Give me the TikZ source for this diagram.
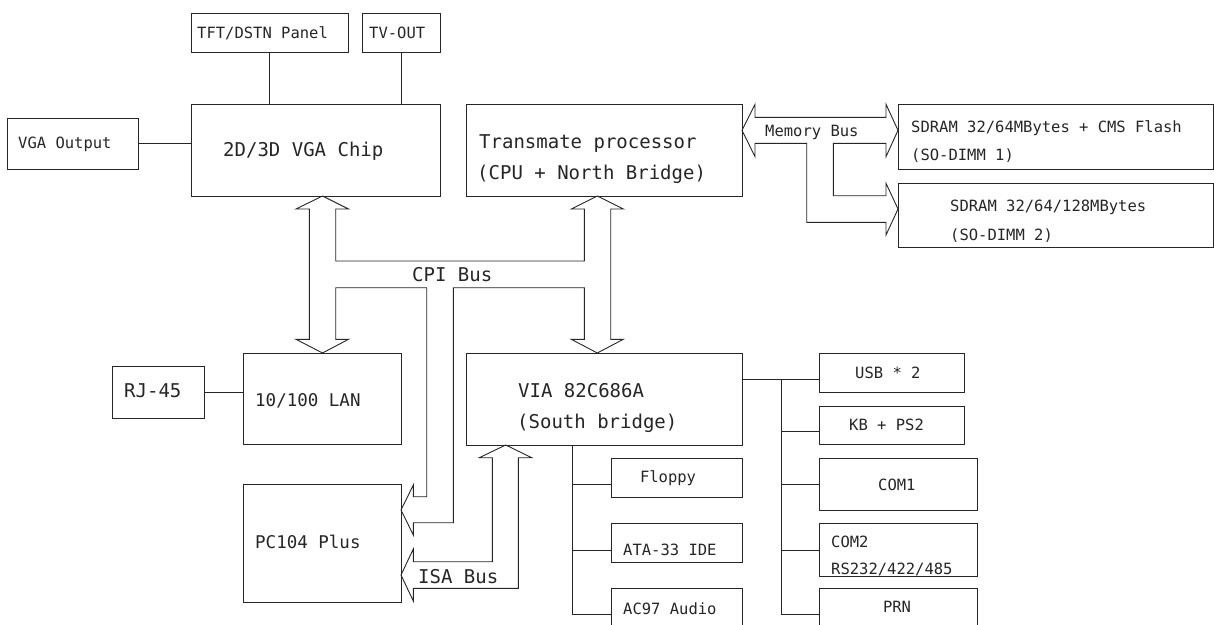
\documentclass[tikz,border=0pt]{standalone}
\usepackage{fontspec}
\newfontfamily\dmono{DejaVu Sans Mono}
\definecolor{ink}{HTML}{262626}
\tikzset{
  box/.style={draw=ink,line width=0.9pt,inner sep=0pt,outer sep=0pt},
  ln/.style={draw=ink,line width=0.9pt},
  bus/.style={draw=ink,line width=0.9pt,line join=miter},
  ts/.style={inner sep=0pt,text=ink,font=\dmono\fontsize{15.5}{16}\selectfont},
  tm/.style={inner sep=0pt,text=ink,font=\dmono\fontsize{17.5}{18}\selectfont},
  tl/.style={inner sep=0pt,text=ink,font=\dmono\fontsize{19}{20}\selectfont},
}
\newcommand\mybox[5]{\node[box,minimum width={#4pt-#2pt},minimum height={#5pt-#3pt}] (#1) at ({(#2+#4)/2},{(#3+#5)/2}) {};}
\begin{document}
\begin{tikzpicture}[x=1pt,y=-1pt]
\useasboundingbox (0,0) rectangle (1214,624);
\clip (0,0) rectangle (1214,624);
\fill[white] (0,0) rectangle (1214,624);
% boxes
\mybox{tft}{191}{13}{348}{52}
\mybox{tv}{362}{13}{440}{52}
\mybox{vga}{191}{104}{440}{196}
\mybox{vgaout}{7}{118}{138}{169}
\mybox{cpu}{466}{104}{742}{196}
\mybox{sdA}{898}{104}{1213}{169}
\mybox{sdB}{898}{183}{1213}{247}
\mybox{lan}{243}{353}{401}{444}
\mybox{pc}{243}{484}{401}{602}
\mybox{rj}{112}{366}{204}{418}
\mybox{via}{466}{353}{742}{445}
\mybox{usb}{819}{353}{964}{392}
\mybox{kb}{819}{406}{964}{444}
\mybox{comA}{819}{458}{977}{510}
\mybox{comB}{819}{523}{977}{576}
\mybox{prn}{819}{588}{977}{650}
\mybox{fd}{611}{458}{742}{497}
\mybox{ata}{611}{523}{742}{562}
\mybox{ac}{611}{588}{742}{650}
% texts
\node[ts,anchor=base west] (t1) at (197,38) {TFT/DSTN Panel};
\node[ts,anchor=base west] (t2) at (369,38) {TV-OUT};
\node[ts,anchor=base west] (t3) at (18,148) {VGA Output};
\node[tl,anchor=base west] (t4) at (223,156) {2D/3D VGA Chip};
\node[tl,anchor=base west] (t5) at (479,148) {Transmate processor};
\node[tl,anchor=base west] (t6) at (477,179) {(CPU + North Bridge)};
\node[ts,anchor=base west] (t7) at (765,136) {Memory Bus};
\node[ts,anchor=base west] (t8) at (911,132) {SDRAM 32/64MBytes + CMS Flash};
\node[ts,anchor=base west] (t9) at (911,160) {(SO-DIMM 1)};
\node[ts,anchor=base west] (t10) at (950,211) {SDRAM 32/64/128MBytes};
\node[ts,anchor=base west] (t11) at (950,240) {(SO-DIMM 2)};
\node[tl,anchor=base west] (t12) at (412,281) {CPI Bus};
\node[tl,anchor=base west] (t13) at (124,397.5) {RJ-45};
\node[tm,anchor=base west] (t14) at (255,406.5) {10/100 LAN};
\node[tm,anchor=base west] (t15) at (255,548.5) {PC104 Plus};
\node[tl,anchor=base west] (t16) at (518,397) {VIA 82C686A};
\node[tl,anchor=base west] (t17) at (517,428) {(South bridge)};
\node[tl,anchor=base west] (t18) at (418,583) {ISA Bus};
\node[ts,anchor=base west] (t19) at (855,378.5) {USB * 2};
\node[ts,anchor=base west] (t20) at (849,430) {KB + PS2};
\node[ts,anchor=base west] (t21) at (878,490) {COM1};
\node[ts,anchor=base west] (t22) at (831,547) {COM2};
\node[ts,anchor=base west] (t23) at (831,574) {RS232/422/485};
\node[ts,anchor=base] (t24) at (897,612.5) {PRN};
\node[ts,anchor=base] (t25) at (668,482.5) {Floppy};
\node[ts,anchor=base west] (t26) at (623,555) {ATA-33 IDE};
\node[ts,anchor=base west] (t27) at (623,614) {AC97 Audio};
% plain connectors
\draw[ln] (tft.south) -- (tft.south |- vga.north);
\draw[ln] (tv.south) -- (tv.south |- vga.north);
\draw[ln] (vgaout.east) -- (vgaout.east -| vga.west);
\draw[ln] (rj.east) -- (rj.east -| lan.west);
\coordinate (rb0) at (781,379);
\coordinate (rb1) at (781,431);
\coordinate (rb2) at (781,484);
\coordinate (rb3) at (781,550);
\coordinate (rb4) at (781,614);
\draw[ln] (via.east |- rb0) -- (usb.west |- rb0);
\draw[ln] (rb0) -- (rb4) -- (rb4 -| prn.west);
\draw[ln] (rb1) -- (rb1 -| kb.west);
\draw[ln] (rb2) -- (rb2 -| comA.west);
\draw[ln] (rb3) -- (rb3 -| comB.west);
\coordinate (lb0) at (572,445);
\coordinate (lb1) at (572,484);
\coordinate (lb2) at (572,550);
\coordinate (lb3) at (572,614);
\draw[ln] (lb0) -- (lb3) -- (lb3 -| ac.west);
\draw[ln] (lb1) -- (lb1 -| fd.west);
\draw[ln] (lb2) -- (lb2 -| ata.west);
% CPI bus
\draw[bus] (309.3,209) -- (296,209) -- (322.5,196) -- (348.5,209) -- (335.7,209)
  -- (335.7,261) -- (584.3,261) -- (584.3,209) -- (571.3,209) -- (597.3,196)
  -- (623.3,209) -- (610.7,209) -- (610.7,339.3) -- (623.3,339.3) -- (597.3,353)
  -- (571.3,339.3) -- (584.3,339.3) -- (584.3,287.7) -- (453.3,287.7)
  -- (453.3,522.7) -- (413.3,522.7) -- (413.3,535) -- (401,510) -- (413.3,485)
  -- (413.3,496.7) -- (426.7,496.7) -- (426.7,287.7) -- (335.7,287.7)
  -- (335.7,339.3) -- (348.5,339.3) -- (322.5,353) -- (296,339.3) -- (309.3,339.3) -- cycle;
% ISA bus
\draw[bus] (505.7,445) -- (531.7,457.7) -- (518.3,457.7) -- (518.3,588.3)
  -- (413.3,588.3) -- (413.3,601) -- (401,575) -- (413.3,549) -- (413.3,561.7)
  -- (492.3,561.7) -- (492.3,457.7) -- (479.3,457.7) -- cycle;
% Memory bus
\draw[bus] (742,130.3) -- (755,104.3) -- (755,117.3) -- (886,117.3) -- (886,104.3)
  -- (898,130.3) -- (886,156.7) -- (886,143.3) -- (833.3,143.3) -- (833.3,195.7)
  -- (886,195.7) -- (886,183.3) -- (898,209) -- (886,235) -- (886,222.3)
  -- (806.7,222.3) -- (806.7,143.3) -- (755,143.3) -- (755,156.7) -- cycle;
\end{tikzpicture}
\end{document}
